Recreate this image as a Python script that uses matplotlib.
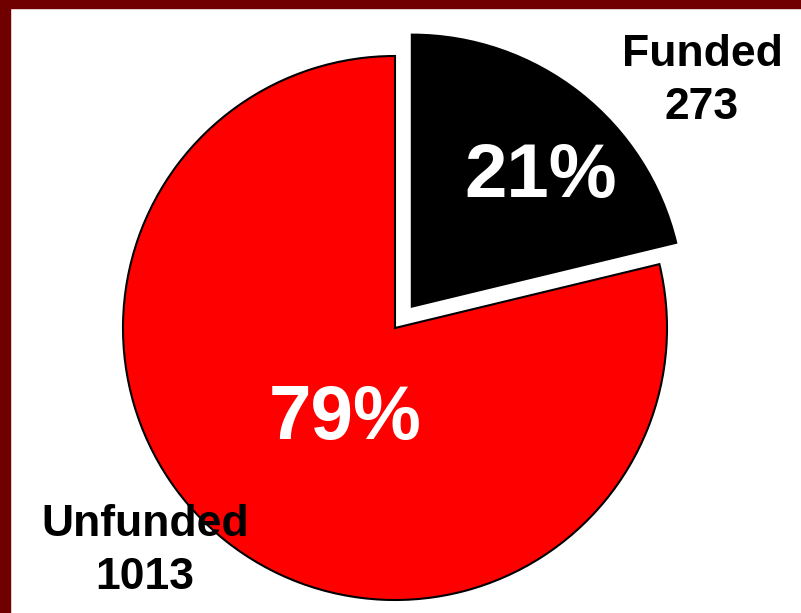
import matplotlib.pyplot as plt
from matplotlib.patches import Rectangle

plt.rcParams['font.family'] = ['Liberation Sans', 'DejaVu Sans']

# proposals by outcome
labels = ['Funded', 'Unfunded']
counts = [273, 1013]
colors = ['black', 'red']
explode = [0.1, 0.0]

W, H = 801, 613
R = 272
fig = plt.figure(figsize=(W / 100, H / 100), dpi=100)
ax = fig.add_axes([0, 0, 1, 1])

# pie() offsets exploded wedges in data units, so scale by the radius
ax.pie(counts, colors=colors, explode=[e * R for e in explode], startangle=90,
       counterclock=False, center=(395, H - 328), radius=R,
       wedgeprops=dict(edgecolor='black', linewidth=1.5))
ax.set_xlim(0, W)
ax.set_ylim(0, H)
ax.set_aspect('equal')
ax.axis('off')

total = sum(counts)
pcts = [f"{round(100 * c / total)}%" for c in counts]

# percentages inside the slices
ax.text(541, H - 178, pcts[0], color='white', fontsize=55, fontweight='bold',
        ha='center', va='center')
ax.text(345, H - 420, pcts[1], color='white', fontsize=55, fontweight='bold',
        ha='center', va='center')

# outside labels with counts
ax.text(702, H - 81, f"{labels[0]}\n{counts[0]}", color='black', fontsize=32,
        fontweight='bold', ha='center', va='center', linespacing=1.38)
ax.text(145, H - 551, f"{labels[1]}\n{counts[1]}", color='black', fontsize=32,
        fontweight='bold', ha='center', va='center', linespacing=1.38)

# dark red frame along the top and left edges
ax.add_patch(Rectangle((0, H - 8), W, 8, color='#700000', clip_on=False))
ax.add_patch(Rectangle((0, 0), 10, H, color='#700000', clip_on=False))

fig.savefig('out.png', dpi=100)
